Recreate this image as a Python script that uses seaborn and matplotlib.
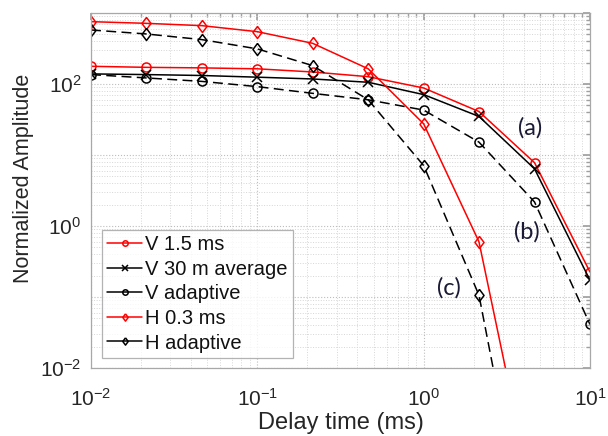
import numpy as np
import pandas as pd
import matplotlib
matplotlib.use("Agg")
import matplotlib.pyplot as plt
import seaborn as sns
from matplotlib.ticker import LogLocator, NullFormatter, FuncFormatter

# ---- data ----
delay = [0.01, 0.0215, 0.0464, 0.1, 0.215, 0.464, 1.0, 2.15, 4.64, 10.0]
v_15ms = [178, 172, 169, 164, 148, 127, 88, 41, 7.8, 0.225]
v_30m_avg = [139, 136, 132, 125, 118, 106, 71, 35, 6.4, 0.172]
v_adaptive = [136, 122, 109, 92, 74, 60, 43, 15.2, 2.18, 0.041]
delay_h = [0.01, 0.0215, 0.0464, 0.1, 0.215, 0.464, 1.0, 2.15, 4.64]
h_03ms = [757, 717, 665, 547, 375, 164, 27.5, 0.6, 1.1e-4]
h_adaptive = [578, 508, 423, 313, 182, 60, 7.1, 0.106, 1e-5]

labels = ["V 1.5 ms", "V 30 m average", "V adaptive", "H 0.3 ms", "H adaptive"]
annot = ["(a)", "(b)", "(c)"]

sns.set_theme(style="white")
plt.rcParams["font.family"] = ["Liberation Sans", "DejaVu Sans"]
plt.rcParams["mathtext.default"] = "regular"

fig = plt.figure(figsize=(6.08, 4.36), dpi=100)
ax = fig.add_axes([0.1497, 0.156, 0.8207, 0.814])
ax.set_xscale("log")
ax.set_yscale("log")

diamond = [(0, 1), (0.75, 0), (0, -1), (-0.75, 0), (0, 1)]
dash = (0, (6.5, 3.5))
series = [
    (delay, v_15ms, labels[0], "red", "o", "-"),
    (delay, v_30m_avg, labels[1], "black", "x", "-"),
    (delay, v_adaptive, labels[2], "black", "o", dash),
    (delay_h, h_03ms, labels[3], "red", diamond, "-"),
    (delay_h, h_adaptive, labels[4], "black", diamond, dash),
]
for xs, ys, lab, col, mk, ls in series:
    df = pd.DataFrame({"x": xs, "y": ys})
    ms = 8.7 if mk is diamond else 6.5
    sns.lineplot(data=df, x="x", y="y", ax=ax, color=col, marker=mk,
                 linestyle=ls, linewidth=1.1, markersize=ms,
                 markerfacecolor="none", markeredgecolor=col,
                 markeredgewidth=1.1, label=lab, legend=False)

ax.set_xlim(1e-2, 1e1)
ax.set_ylim(1e-2, 1e3)

ax.xaxis.set_major_locator(LogLocator(base=10, numticks=10))
ax.yaxis.set_major_locator(LogLocator(base=10, subs=(1.0,), numticks=10))
ax.xaxis.set_major_formatter(FuncFormatter(lambda v, p: r"$10^{%d}$" % round(np.log10(v))))
ax.yaxis.set_major_formatter(
    FuncFormatter(lambda v, p: r"$10^{%d}$" % round(np.log10(v)) if round(np.log10(v)) % 2 == 0 else ""))
ax.xaxis.set_minor_locator(LogLocator(base=10, subs=np.arange(2, 10), numticks=20))
ax.yaxis.set_minor_locator(LogLocator(base=10, subs=np.arange(2, 10), numticks=20))
ax.xaxis.set_minor_formatter(NullFormatter())
ax.yaxis.set_minor_formatter(NullFormatter())

ax.grid(True, which="major", linestyle=":", color="#bdbdbd", linewidth=0.8)
ax.grid(True, which="minor", linestyle=":", color="#d6d6d6", linewidth=0.7)
ax.set_axisbelow(True)

for sp in ax.spines.values():
    sp.set_color("#a8a8a8")
    sp.set_linewidth(0.9)
ax.tick_params(which="both", direction="in", top=True, right=True,
               color="#a0a0a0", labelsize=15, labelcolor="#262626")
ax.tick_params(which="major", length=5)
ax.tick_params(axis="x", which="major", pad=14)
ax.tick_params(axis="y", which="major", pad=7)
ax.tick_params(which="minor", length=3)

ax.set_xlabel("Delay time (ms)", fontsize=17, color="#262626", labelpad=2)
ax.set_ylabel("Normalized Amplitude", fontsize=15.5, color="#262626")
ax.yaxis.set_label_coords(-0.114, 0.535)

leg = ax.legend(loc="upper left", bbox_to_anchor=(0.022, 0.389), borderaxespad=0,
                fontsize=14.5, frameon=True, fancybox=False, markerscale=0.6,
                handlelength=1.75, handletextpad=0.15, labelspacing=0.28,
                borderpad=0.25)
leg.get_frame().set_edgecolor("#a0a0a0")
leg.get_frame().set_linewidth(0.9)
for t in leg.get_texts():
    t.set_color("#111111")
for ln in leg.get_lines():
    ln.set_linestyle("-")

tx_kw = dict(transform=ax.transAxes, fontsize=17, color="#1a1a36",
             family=["Lato", "DejaVu Sans"], ha="center", va="center")
ax.text(0.880, 0.676, annot[0], **tx_kw)
ax.text(0.874, 0.383, annot[1], **tx_kw)
ax.text(0.717, 0.225, annot[2], **tx_kw)

fig.savefig("out.png", dpi=100)
